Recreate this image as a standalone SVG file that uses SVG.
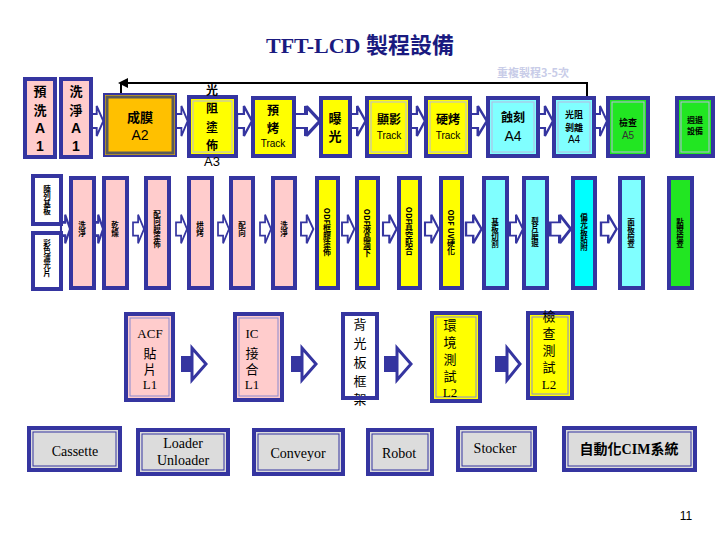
<svg xmlns="http://www.w3.org/2000/svg" width="720" height="540" viewBox="0 0 720 540">
<style>
.bx{stroke:#3535a0;stroke-width:4}
.in{fill:none;stroke:#b8b8e0;stroke-width:1}
.pk{fill:#ffcccc}.yl{fill:#ffff00}.cy{fill:#80ffff}.cy2{fill:#00ffff}.gr{fill:#22e622}.wh{fill:#ffffff}.gy{fill:#dcdcdc}
.ar{fill:#ffffff;stroke:#3535a0;stroke-width:2;stroke-linejoin:miter}
.tb{font-family:"Noto Sans CJK TC","Liberation Sans",sans-serif;font-weight:bold;fill:#000;text-anchor:middle}
.ts{font-family:"Liberation Sans","Noto Sans CJK TC",sans-serif;fill:#000;text-anchor:middle}
.vt{font-family:"Noto Sans CJK TC",sans-serif;font-weight:bold;font-size:7.5px;fill:#000;text-anchor:middle;writing-mode:vertical-rl}
.sf{font-family:"Liberation Serif","Noto Sans CJK TC",serif;fill:#000;text-anchor:middle}
</style>
<defs>
<polygon id="ta" points="0,-7 6,-7 6,-15 13,0 6,15 6,7 0,7"/>
</defs>

<text x="360" y="53" text-anchor="middle" font-family="Liberation Serif,Noto Sans CJK TC,serif" font-weight="bold" font-size="22" fill="#1a1a80">TFT-LCD <tspan font-family="Noto Sans CJK TC,sans-serif">製程設備</tspan></text>

<g id="connectors">
<path d="M587,97 V83 H124 M121,83 V94" fill="none" stroke="#000" stroke-width="2"/>
<polygon points="118,83 128,78 128,88" fill="#000"/>
<text x="533" y="77" class="tb" font-size="11" style="fill:#c8cce8">重複製程3-5次</text>
<!-- top row arrows -->
<use href="#ta" class="ar" transform="translate(91,121) scale(0.95,1)"/>
<use href="#ta" class="ar" transform="translate(176,121) scale(0.9,1)"/>
<use href="#ta" class="ar" transform="translate(237,121) scale(1.15,1)"/>
<use href="#ta" class="ar" transform="translate(294,121) scale(2,1)"/>
<use href="#ta" class="ar" transform="translate(350,121) scale(1.2,1)"/>
<use href="#ta" class="ar" transform="translate(410,121) scale(1.15,1)"/>
<use href="#ta" class="ar" transform="translate(470,121) scale(1.3,1)"/>
<use href="#ta" class="ar" transform="translate(538,121) scale(1.15,1)"/>
<use href="#ta" class="ar" transform="translate(594,121) scale(1,1)"/>
<!-- second row arrows -->
<g transform="translate(0,229)">
<use href="#ta" class="ar" transform="translate(61,0) scale(0.7,0.95)" style="stroke-width:3"/>
<use href="#ta" class="ar" transform="translate(94,0) scale(0.7,0.95)" style="stroke-width:3"/>
<use href="#ta" class="ar" transform="translate(133,0) scale(0.85,0.95)"/>
<use href="#ta" class="ar" transform="translate(176,0) scale(0.85,0.95)"/>
<use href="#ta" class="ar" transform="translate(218,0) scale(0.85,0.95)"/>
<use href="#ta" class="ar" transform="translate(260,0) scale(0.85,0.95)"/>
<use href="#ta" class="ar" transform="translate(301,0) scale(0.95,0.95)"/>
<use href="#ta" class="ar" transform="translate(342,0) scale(0.95,0.95)"/>
<use href="#ta" class="ar" transform="translate(383,0) scale(1.05,0.95)"/>
<use href="#ta" class="ar" transform="translate(425,0) scale(1.05,0.95)"/>
<use href="#ta" class="ar" transform="translate(466,0) scale(1.2,0.95)"/>
<use href="#ta" class="ar" transform="translate(510,0) scale(1,0.95)"/>
<use href="#ta" class="ar" transform="translate(550,0) scale(1.6,0.95)"/>
<use href="#ta" class="ar" transform="translate(601,0) scale(1.2,0.95)"/>
</g>
<!-- middle row arrows -->
<g>
<rect x="181" y="356" width="11" height="16" fill="#3535a0"/>
<polygon points="192,348 206,364 192,380" fill="#fff" stroke="#3535a0" stroke-width="3"/>
<rect x="291" y="356" width="11" height="16" fill="#3535a0"/>
<polygon points="302,348 316,364 302,380" fill="#fff" stroke="#3535a0" stroke-width="3"/>
<rect x="384" y="356" width="13" height="16" fill="#3535a0"/>
<polygon points="397,348 411,364 397,380" fill="#fff" stroke="#3535a0" stroke-width="3"/>
<rect x="495" y="356" width="12" height="16" fill="#3535a0"/>
<polygon points="507,348 520,364 507,380" fill="#fff" stroke="#3535a0" stroke-width="3"/>
</g>
</g>

<!-- top row -->
<g id="n-prewash">
<rect x="25" y="79" width="30" height="78" class="bx pk"/>
<text class="tb" font-size="13"><tspan x="40" y="96">預</tspan><tspan x="40" y="115">洗</tspan></text>
<text class="ts" font-size="14" font-weight="bold"><tspan x="40" y="133">A</tspan><tspan x="40" y="151">1</tspan></text>
</g>
<g id="n-wash">
<rect x="61" y="79" width="30" height="78" class="bx pk"/>
<text class="tb" font-size="13"><tspan x="76" y="96">洗</tspan><tspan x="76" y="115">淨</tspan></text>
<text class="ts" font-size="14" font-weight="bold"><tspan x="76" y="133">A</tspan><tspan x="76" y="151">1</tspan></text>
</g>
<g id="n-film">
<rect x="104" y="94" width="72" height="62" fill="#ffc000" stroke="#3535a0" stroke-width="2"/>
<rect x="107" y="97" width="66" height="56" fill="none" stroke="#5a5a5a" stroke-width="3"/>
<text class="tb" font-size="13" x="140" y="122">成膜</text>
<text class="ts" font-size="14" x="140" y="140">A2</text>
</g>
<g id="n-resist">
<rect x="189" y="97" width="47" height="59" class="bx yl"/>
<rect x="193" y="101" width="39" height="51" class="in"/>
<text class="tb" font-size="12"><tspan x="212" y="95">光</tspan><tspan x="212" y="113">阻</tspan><tspan x="212" y="132">塗</tspan><tspan x="212" y="150">佈</tspan></text>
<text class="ts" font-size="13" x="212" y="166">A3</text>
</g>
<g id="n-prebake">
<rect x="253" y="98" width="41" height="58" class="bx yl"/>
<text class="tb" font-size="12"><tspan x="273" y="115">預</tspan><tspan x="273" y="133">烤</tspan></text>
<text class="ts" font-size="10" x="273" y="147">Track</text>
</g>
<g id="n-expose">
<rect x="321" y="98" width="29" height="58" class="bx yl"/>
<text class="tb" font-size="13"><tspan x="335" y="123">曝</tspan><tspan x="335" y="141">光</tspan></text>
</g>
<g id="n-develop">
<rect x="367" y="98" width="43" height="58" class="bx yl"/>
<rect x="371" y="102" width="35" height="50" class="in"/>
<text class="tb" font-size="12" x="389" y="124">顯影</text>
<text class="ts" font-size="10" x="389" y="139">Track</text>
</g>
<g id="n-hardbake">
<rect x="426" y="98" width="44" height="58" class="bx yl"/>
<rect x="430" y="102" width="36" height="50" class="in"/>
<text class="tb" font-size="12" x="448" y="124">硬烤</text>
<text class="ts" font-size="10" x="448" y="139">Track</text>
</g>
<g id="n-etch">
<rect x="488" y="98" width="50" height="58" class="bx cy"/>
<rect x="492" y="102" width="42" height="50" class="in"/>
<text class="tb" font-size="12" x="513" y="122">蝕刻</text>
<text class="ts" font-size="14" x="513" y="141">A4</text>
</g>
<g id="n-strip">
<rect x="554" y="98" width="40" height="58" class="bx cy"/>
<rect x="558" y="102" width="32" height="50" class="in"/>
<text class="tb" font-size="9"><tspan x="574" y="118">光阻</tspan><tspan x="574" y="131">剝離</tspan></text>
<text class="ts" font-size="10" x="574" y="143">A4</text>
</g>
<g id="n-inspect">
<rect x="608" y="98" width="40" height="58" class="bx gr"/>
<rect x="612" y="102" width="32" height="50" class="in"/>
<text class="tb" font-size="9" x="628" y="126">檢查</text>
<text class="ts" font-size="10" x="628" y="139" style="fill:#333">A5</text>
</g>
<g id="n-periph">
<rect x="677" y="98" width="36" height="58" class="bx gr"/>
<rect x="681" y="102" width="28" height="50" class="in"/>
<text class="tb" font-size="8"><tspan x="695" y="123">週邊</tspan><tspan x="695" y="134">設備</tspan></text>
</g>

<!-- second row -->
<g id="n-array"><rect x="33" y="176" width="28" height="48" class="bx wh"/><text class="vt" x="47" y="200">陣列基板</text></g>
<g id="n-cf"><rect x="33" y="233" width="28" height="56" class="bx wh"/><text class="vt" x="47" y="258">彩色濾光片</text></g>
<g id="n-r1"><rect x="71" y="178" width="23" height="110" class="bx pk"/><text class="vt" x="82" y="229">洗淨</text></g>
<g id="n-r2"><rect x="104" y="178" width="23" height="110" class="bx pk"/><text class="vt" x="115" y="229">乾燥</text></g>
<g id="n-r3"><rect x="146" y="178" width="23" height="110" class="bx pk"/><text class="vt" x="157" y="229">配向膜塗佈</text></g>
<g id="n-r4"><rect x="189" y="178" width="23" height="110" class="bx pk"/><text class="vt" x="200" y="229">烘烤</text></g>
<g id="n-r5"><rect x="231" y="178" width="22" height="110" class="bx pk"/><text class="vt" x="242" y="229">配向</text></g>
<g id="n-r6"><rect x="273" y="178" width="22" height="110" class="bx pk"/><text class="vt" x="284" y="229">洗淨</text></g>
<g id="n-r7"><rect x="317" y="178" width="21" height="110" class="bx yl"/><text class="vt" x="327" y="232" style="font-size:8px">ODF框膠塗佈</text></g>
<g id="n-r8"><rect x="357" y="178" width="21" height="110" class="bx yl"/><text class="vt" x="367" y="233" style="font-size:8px">ODF液晶滴下</text></g>
<g id="n-r9"><rect x="399" y="178" width="21" height="110" class="bx yl"/><text class="vt" x="409" y="231" style="font-size:8px">ODF真空貼合</text></g>
<g id="n-r10"><rect x="441" y="178" width="21" height="110" class="bx yl"/><text class="vt" x="451" y="232" style="font-size:8px">ODF UV硬化</text></g>
<g id="n-r11"><rect x="484" y="178" width="23" height="110" class="bx cy"/><text class="vt" x="495" y="233">基板切割</text></g>
<g id="n-r12"><rect x="524" y="178" width="23" height="110" class="bx cy"/><text class="vt" x="535" y="232">裂片磨邊</text></g>
<g id="n-r13"><rect x="573" y="178" width="22" height="110" class="bx cy2"/><text class="vt" x="584" y="232">偏光板貼附</text></g>
<g id="n-r14"><rect x="620" y="178" width="23" height="110" class="bx cy"/><text class="vt" x="631" y="233">面板檢查</text></g>
<g id="n-r15"><rect x="669" y="178" width="23" height="110" class="bx gr"/><text class="vt" x="680" y="233">點燈檢查</text></g>

<!-- middle row -->
<g id="n-acf">
<rect x="126" y="314" width="47" height="86" class="bx pk"/>
<rect x="130" y="318" width="39" height="78" fill="none" stroke="#8a8ad0" stroke-width="1"/>
<text class="sf" font-size="13"><tspan x="150" y="338">ACF</tspan><tspan x="150" y="358">貼</tspan><tspan x="150" y="374">片</tspan><tspan x="150" y="389">L1</tspan></text>
</g>
<g id="n-ic">
<rect x="235" y="314" width="47" height="86" class="bx pk"/>
<rect x="239" y="318" width="39" height="78" fill="none" stroke="#8a8ad0" stroke-width="1"/>
<text class="sf" font-size="13"><tspan x="252" y="338">IC</tspan><tspan x="252" y="358">接</tspan><tspan x="252" y="374">合</tspan><tspan x="252" y="389">L1</tspan></text>
</g>
<g id="n-bl">
<rect x="343" y="314" width="34" height="84" class="bx wh"/>
<text class="sf" font-size="13"><tspan x="360" y="329">背</tspan><tspan x="360" y="348">光</tspan><tspan x="360" y="367">板</tspan><tspan x="360" y="386">框</tspan><tspan x="360" y="404">架</tspan></text>
<rect x="343" y="396" width="34" height="4" fill="#3535a0"/>
</g>
<g id="n-env">
<rect x="432" y="313" width="48" height="88" class="bx yl"/>
<rect x="436" y="317" width="40" height="80" fill="none" stroke="#8a8ad0" stroke-width="1"/>
<text class="sf" font-size="13"><tspan x="450" y="330">環</tspan><tspan x="450" y="347">境</tspan><tspan x="450" y="364">測</tspan><tspan x="450" y="381">試</tspan><tspan x="450" y="397">L2</tspan></text>
</g>
<g id="n-test">
<rect x="528" y="313" width="44" height="85" class="bx yl"/>
<rect x="532" y="317" width="36" height="77" fill="none" stroke="#8a8ad0" stroke-width="1"/>
<text class="sf" font-size="13"><tspan x="549" y="321">檢</tspan><tspan x="549" y="338">查</tspan><tspan x="549" y="355">測</tspan><tspan x="549" y="372">試</tspan><tspan x="549" y="389">L2</tspan></text>
</g>

<!-- bottom row -->
<g id="n-cassette">
<rect x="29" y="428" width="91" height="42" class="bx gy"/>
<rect x="33" y="432" width="83" height="34" fill="none" stroke="#3535a0" stroke-width="1"/>
<text class="sf" font-size="14" x="75" y="456">Cassette</text>
</g>
<g id="n-loader">
<rect x="138" y="430" width="90" height="44" class="bx gy"/>
<rect x="142" y="434" width="82" height="36" fill="none" stroke="#3535a0" stroke-width="1"/>
<text class="sf" font-size="14"><tspan x="183" y="448">Loader</tspan><tspan x="183" y="465">Unloader</tspan></text>
</g>
<g id="n-conveyor">
<rect x="254" y="430" width="89" height="44" class="bx gy"/>
<rect x="258" y="434" width="81" height="36" fill="none" stroke="#3535a0" stroke-width="1"/>
<text class="sf" font-size="14" x="298" y="458">Conveyor</text>
</g>
<g id="n-robot">
<rect x="368" y="430" width="64" height="44" class="bx gy"/>
<rect x="372" y="434" width="56" height="36" fill="none" stroke="#3535a0" stroke-width="1"/>
<text class="sf" font-size="14" x="399" y="458">Robot</text>
</g>
<g id="n-stocker">
<rect x="458" y="428" width="77" height="42" class="bx gy"/>
<rect x="462" y="432" width="69" height="34" fill="none" stroke="#3535a0" stroke-width="1"/>
<text class="sf" font-size="14" x="495" y="453">Stocker</text>
</g>
<g id="n-cim">
<rect x="564" y="428" width="131" height="42" class="bx gy"/>
<rect x="568" y="432" width="123" height="34" fill="none" stroke="#3535a0" stroke-width="1"/>
<text class="sf" font-size="14" font-weight="bold" x="629" y="454">自動化CIM系統</text>
</g>

<text x="686" y="520" class="ts" font-size="12">11</text>
</svg>
